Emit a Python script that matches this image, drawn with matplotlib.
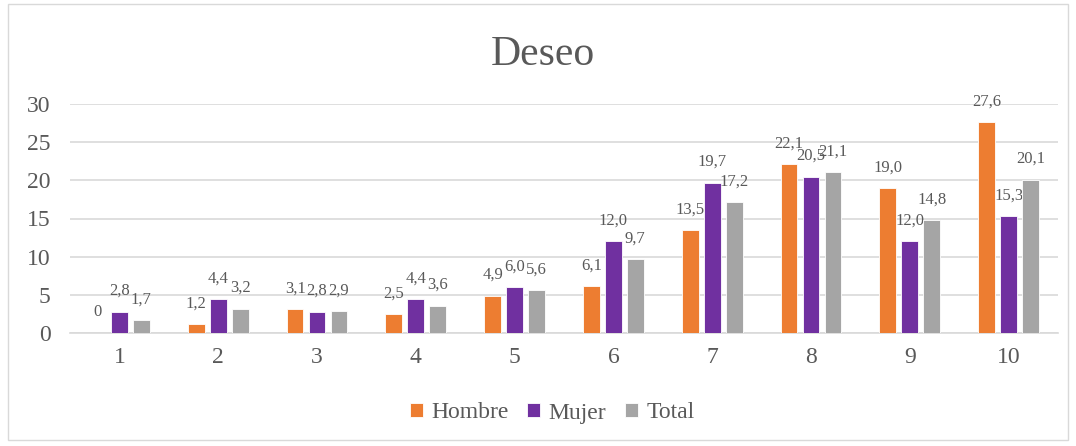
import numpy as np
import matplotlib
matplotlib.use('Agg')
import matplotlib.pyplot as plt
from matplotlib.patches import Rectangle

# data
categories = ['1', '2', '3', '4', '5', '6', '7', '8', '9', '10']
hombre = [0, 1.2, 3.1, 2.5, 4.9, 6.1, 13.5, 22.1, 19.0, 27.6]
mujer = [2.8, 4.4, 2.8, 4.4, 6.0, 12.0, 19.7, 20.5, 12.0, 15.3]
total = [1.7, 3.2, 2.9, 3.6, 5.6, 9.7, 17.2, 21.1, 14.8, 20.1]
series_names = ['Hombre', 'Mujer', 'Total']
colors = ['#ED7D31', '#7030A0', '#A5A5A5']

plt.rcParams['font.family'] = ['Liberation Serif']
plt.rcParams['font.serif'] = ['Liberation Serif']
text_color = '#595959'

fig = plt.figure(figsize=(10.76, 4.46), dpi=100)
ax = fig.add_axes([70 / 1076, (446 - 333) / 446, 988 / 1076, 229 / 446])

x = np.arange(len(categories))
width = 0.17
step = 0.222
for i, (vals, name, col) in enumerate(zip([hombre, mujer, total], series_names, colors)):
    pos = x + (i - 1) * step
    bars = ax.bar(pos, vals, width, color=col, label=name, zorder=3,
                  edgecolor='white', linewidth=0.6)
    for b, v in zip(bars, vals):
        txt = '0' if v == 0 else ('%.1f' % v).replace('.', ',')
        ax.annotate(txt, (b.get_x() + b.get_width() / 2, v),
                    xytext=(0, 9), textcoords='offset points',
                    ha='center', va='bottom', fontsize=12, color=text_color)

ax.set_xlim(-0.5, len(categories) - 0.5)
ax.set_ylim(0, 30)
ax.set_yticks([0, 5, 10, 15, 20, 25, 30])
ax.set_xticks(x)
ax.set_xticklabels(categories)
ax.tick_params(axis='y', length=0, pad=14, labelsize=17, labelcolor=text_color)
ax.tick_params(axis='x', length=0, pad=10, labelsize=17, labelcolor=text_color)
ax.grid(axis='y', color='#D9D9D9', linewidth=1.2, zorder=0)
for s in ['top', 'right', 'left']:
    ax.spines[s].set_visible(False)
ax.spines['bottom'].set_color('#D9D9D9')
ax.spines['bottom'].set_linewidth(1.2)

fig.text(543 / 1076, 1 - 55 / 446, 'Deseo', ha='center', va='center',
         fontsize=30, color=text_color)

leg = fig.legend(loc='center', bbox_to_anchor=(552 / 1076, 1 - 413 / 446), ncol=3,
                 frameon=False, fontsize=17,
                 handlelength=0.55, handleheight=0.55,
                 handletextpad=0.35, columnspacing=0.8)
for t in leg.get_texts():
    t.set_fontfamily('Liberation Serif')
    t.set_color(text_color)

fig.patches.append(Rectangle((8 / 1076, 6 / 446), 1060 / 1076, 436 / 446,
                             transform=fig.transFigure, fill=False,
                             edgecolor='#D9D9D9', linewidth=1))

fig.savefig('out.png', dpi=100)
